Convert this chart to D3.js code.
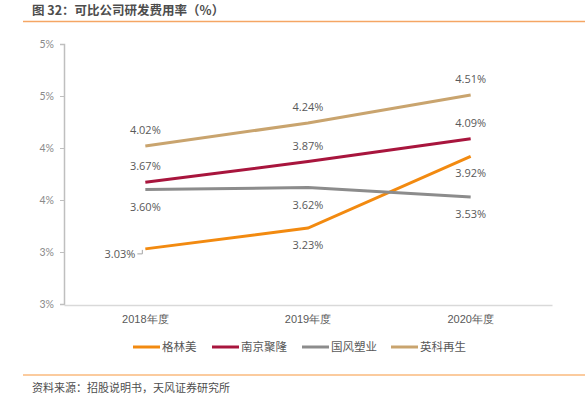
<!DOCTYPE html>
<html><head><meta charset="utf-8">
<script src="https://cdn.jsdelivr.net/npm/d3@7"></script>
<style>body{margin:0;background:#fff;} svg{display:block;font-family:"Noto Sans CJK SC","Microsoft YaHei",sans-serif;}</style>
</head><body>
<svg id="c" width="585" height="398"></svg>
<script>
const categories = ["2018年度","2019年度","2020年度"];
const seriesNames = ["格林美","南京聚隆","国风塑业","英科再生"];
const glm = [3.03, 3.23, 3.92];
const njjl = [3.67, 3.87, 4.09];
const gfsy = [3.60, 3.62, 3.53];
const ykzs = [4.02, 4.24, 4.51];
const yTicks = [2.5, 3.0, 3.5, 4.0, 4.5, 5.0];
const colors = ["#F28A10","#A8153D","#8C8C8C","#C9A46E"];
// label placement per series per point: "a" above, "b" below, "l" left
const labelPos = [["l","b","b"],["a","a","a"],["b","b","b"],["a","a","a"]];

const data = [glm, njjl, gfsy, ykzs];
const svg = d3.select("#c");

const x = d3.scaleBand().domain(categories).range([64, 552]);
const y = d3.scaleLinear().domain([2.5, 5.0]).range([304, 44]);

// title
svg.append("text").attr("x",32).attr("y",15).attr("font-size",12.5).attr("font-weight","bold").attr("fill","#4d4d4d").text("图 32：可比公司研发费用率（%）");
svg.append("line").attr("x1",23).attr("x2",585).attr("y1",21.5).attr("y2",21.5).attr("stroke","#F5A664").attr("stroke-width",1.5);

// y axis
const yAxis = d3.axisLeft(y).tickValues(yTicks).tickSize(4).tickPadding(6).tickFormat(d=>d3.format(".0f")(d + 1e-9)+"%");
const gy = svg.append("g").attr("transform","translate(64,0)").call(yAxis);
gy.select(".domain").attr("stroke","#bfbfbf").attr("stroke-width",1.5);
gy.selectAll(".tick line").attr("stroke","#bfbfbf");
gy.selectAll(".tick text").attr("fill","#8a8a8a").attr("font-size",10.5).attr("font-family","Lato, 'Noto Sans', sans-serif");

// x axis
const xAxis = d3.axisBottom(x).tickSize(0).tickPadding(10);
const gx = svg.append("g").attr("transform","translate(0,305)").call(xAxis);
gx.select(".domain").attr("stroke","#d9d9d9").attr("stroke-width",1.5);
gx.selectAll(".tick text").attr("fill","#595959").attr("font-size",11);

const cx = d => x(d) + x.bandwidth()/2;
const line = d3.line().x((d,i)=>cx(categories[i])).y(d=>y(d));

data.forEach((s, k) => {
  svg.append("path").datum(s).attr("d", line).attr("fill","none").attr("stroke",colors[k]).attr("stroke-width",3);
});

data.forEach((s, k) => {
  s.forEach((v, i) => {
    const px = cx(categories[i]), py = y(v);
    const pos = labelPos[k][i];
    const t = svg.append("text").attr("fill","#595959").attr("font-size",11).attr("font-family","'Open Sans', sans-serif").text(v.toFixed(2)+"%");
    if (pos === "a") t.attr("x",px).attr("y",py-12).attr("text-anchor","middle");
    else if (pos === "b") t.attr("x",px).attr("y",py+21).attr("text-anchor","middle");
    else {
      t.attr("x",px-10).attr("y",py+9).attr("text-anchor","end");
      svg.append("polyline").attr("points",`${px-8},${py+5} ${px-3},${py+5} ${px-3},${py+1}`).attr("fill","none").attr("stroke","#a6a6a6").attr("stroke-width",1);
    }
  });
});

// legend
const legX = [133, 212, 302, 391];
seriesNames.forEach((n, k) => {
  svg.append("line").attr("x1",legX[k]).attr("x2",legX[k]+27).attr("y1",347).attr("y2",347).attr("stroke",colors[k]).attr("stroke-width",3);
  svg.append("text").attr("x",legX[k]+29).attr("y",351).attr("font-size",11.5).attr("fill","#595959").text(n);
});

// source
svg.append("line").attr("x1",23).attr("x2",585).attr("y1",375).attr("y2",375).attr("stroke","#FBCB9E").attr("stroke-width",2);
svg.append("text").attr("x",32).attr("y",392).attr("font-size",11).attr("fill","#4d4d4d").text("资料来源：招股说明书，天风证券研究所");
</script>
</body></html>
